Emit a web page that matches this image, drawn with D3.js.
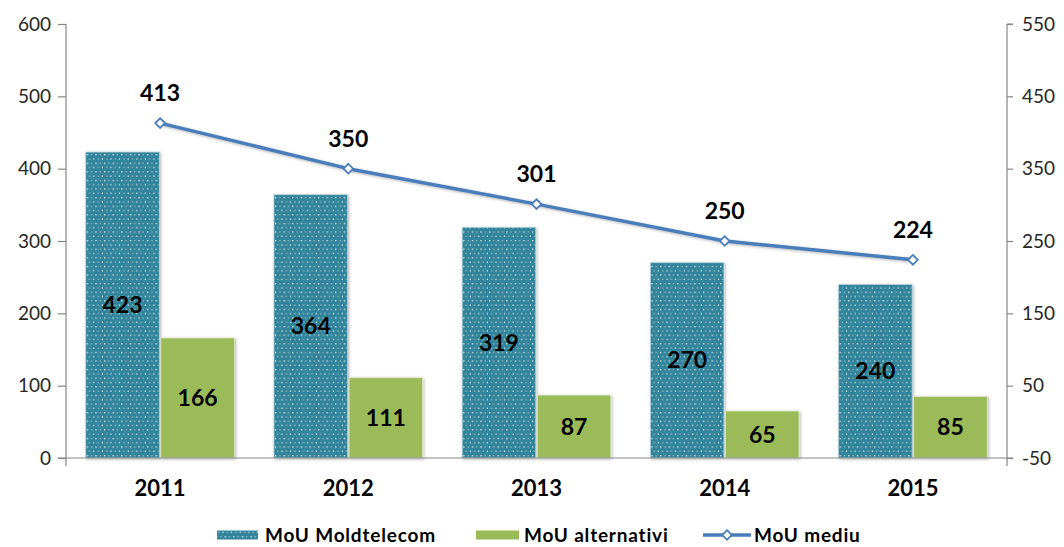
<!DOCTYPE html>
<html>
<head>
<meta charset="utf-8">
<script src="https://cdn.jsdelivr.net/npm/d3@7"></script>
<style>
  body { margin: 0; background: #fff; }
  text { font-family: Lato, "Open Sans", sans-serif; }
</style>
</head>
<body>
<div id="wrapper"></div>
<script>
// Chart data
const years = ["2011", "2012", "2013", "2014", "2015"]
const moldtelecom = [423, 364, 319, 270, 240]
const alternativi = [166, 111, 87, 65, 85]
const mediu = [413, 350, 301, 250, 224]
const leftTicks = [0, 100, 200, 300, 400, 500, 600]
const rightTicks = [-50, 50, 150, 250, 350, 450, 550]
const seriesNames = ["MoU Moldtelecom", "MoU alternativi", "MoU mediu"]

const dimensions = {
  width: 1064,
  height: 547,
  margin: { top: 24, right: 57, bottom: 89, left: 66 },
}
dimensions.boundedWidth = dimensions.width - dimensions.margin.left - dimensions.margin.right
dimensions.boundedHeight = dimensions.height - dimensions.margin.top - dimensions.margin.bottom

const teal = "#31849b"
const green = "#9bbb59"
const blue = "#4a7ebb"
const axisColor = "#868686"

function drawChart() {
  const svg = d3.select("#wrapper").append("svg")
    .attr("width", dimensions.width)
    .attr("height", dimensions.height)

  const defs = svg.append("defs")
  const pat = defs.append("pattern")
    .attr("id", "dots")
    .attr("patternUnits", "userSpaceOnUse")
    .attr("width", 8.6).attr("height", 8.6)
  pat.append("rect").attr("width", 8.6).attr("height", 8.6).attr("fill", teal)
  pat.append("rect").attr("x", 1).attr("y", 1).attr("width", 1.3).attr("height", 1.3).attr("fill", "#ffffff").attr("opacity", 0.9)
  pat.append("rect").attr("x", 5.3).attr("y", 1).attr("width", 1.3).attr("height", 1.3).attr("fill", "#ffffff").attr("opacity", 0.5)
  pat.append("rect").attr("x", 3.15).attr("y", 5.3).attr("width", 1.3).attr("height", 1.3).attr("fill", "#ffffff").attr("opacity", 0.5)
  pat.append("rect").attr("x", 7.45).attr("y", 5.3).attr("width", 1.3).attr("height", 1.3).attr("fill", "#ffffff").attr("opacity", 0.9)

  const shadow = defs.append("filter").attr("id", "shadow")
    .attr("x", "-20%").attr("y", "-20%").attr("width", "140%").attr("height", "140%")
  shadow.append("feDropShadow").attr("dx", 1).attr("dy", 1).attr("stdDeviation", 1.5)
    .attr("flood-color", "#000").attr("flood-opacity", 0.3)

  const bounds = svg.append("g")
    .attr("transform", `translate(${dimensions.margin.left},${dimensions.margin.top})`)

  const xScale = d3.scaleBand()
    .domain(years)
    .range([0, dimensions.boundedWidth])
    .paddingInner(0.21)
    .paddingOuter(0.105)
  const xSub = d3.scaleBand()
    .domain([0, 1])
    .range([0, xScale.bandwidth()])
    .paddingInner(0.02)

  const yLeft = d3.scaleLinear().domain([0, 600]).range([dimensions.boundedHeight, 0])
  const yRight = d3.scaleLinear().domain([-50, 550]).range([dimensions.boundedHeight, 0])

  const groups = bounds.selectAll(".year")
    .data(years)
    .join("g")
    .attr("transform", d => `translate(${xScale(d)},0)`)

  groups.append("rect")
    .attr("x", xSub(0))
    .attr("width", xSub.bandwidth())
    .attr("y", (d, i) => yLeft(moldtelecom[i]))
    .attr("height", (d, i) => yLeft(0) - yLeft(moldtelecom[i]))
    .attr("fill", "url(#dots)")
    .attr("stroke", "#b9d3dd")
    .attr("stroke-width", 0.8)
    .attr("filter", "url(#shadow)")

  groups.append("rect")
    .attr("x", xSub(1))
    .attr("width", xSub.bandwidth())
    .attr("y", (d, i) => yLeft(alternativi[i]))
    .attr("height", (d, i) => yLeft(0) - yLeft(alternativi[i]))
    .attr("fill", green)
    .attr("stroke", "#dfe8cc")
    .attr("stroke-width", 0.8)
    .attr("filter", "url(#shadow)")

  groups.append("text")
    .attr("x", xSub(0) + xSub.bandwidth() / 2)
    .attr("y", (d, i) => (yLeft(moldtelecom[i]) + yLeft(0)) / 2)
    .attr("dy", "0.35em")
    .attr("text-anchor", "middle")
    .attr("font-size", 23)
    .attr("font-weight", "bold")
    .attr("fill", "#000")
    .text((d, i) => moldtelecom[i])

  groups.append("text")
    .attr("x", xSub(1) + xSub.bandwidth() / 2)
    .attr("y", (d, i) => (yLeft(alternativi[i]) + yLeft(0)) / 2)
    .attr("dy", "0.35em")
    .attr("text-anchor", "middle")
    .attr("font-size", 23)
    .attr("font-weight", "bold")
    .attr("fill", "#000")
    .text((d, i) => alternativi[i])

  // Axes
  const leftAxis = bounds.append("g")
    .call(d3.axisLeft(yLeft).tickValues(leftTicks).tickSize(8).tickPadding(7))
  const rightAxis = bounds.append("g")
    .attr("transform", `translate(${dimensions.boundedWidth},0)`)
    .call(d3.axisRight(yRight).tickValues(rightTicks).tickFormat(d => String(d)).tickSize(6).tickPadding(9))
  const xAxis = bounds.append("g")
    .attr("transform", `translate(0,${dimensions.boundedHeight})`)
    .call(d3.axisBottom(xScale).tickSize(0).tickPadding(22))

  for (const ax of [leftAxis, rightAxis, xAxis]) {
    ax.select(".domain").attr("stroke", axisColor).attr("stroke-width", 1.2)
    ax.selectAll(".tick line").attr("stroke", axisColor).attr("stroke-width", 1.2)
  }
  leftAxis.selectAll(".tick text").attr("font-size", 19).attr("fill", "#262626")
  rightAxis.selectAll(".tick text").attr("font-size", 19).attr("fill", "#262626")
  xAxis.selectAll(".tick text").attr("font-size", 22).attr("font-weight", "bold").attr("fill", "#000")
  // domain path ends with outer ticks; redraw baseline across with small overshoot
  xAxis.select(".domain").attr("d", `M-8,0H${dimensions.boundedWidth + 6}`)
  leftAxis.select(".domain").attr("d", `M0,0V${dimensions.boundedHeight + 8}`)
  rightAxis.select(".domain").attr("d", `M0,0H6M0,0V${dimensions.boundedHeight + 8}`)

  // Line series
  const cx = d => xScale(d) + xScale.bandwidth() / 2
  const lineGenerator = d3.line()
    .x((d, i) => cx(years[i]))
    .y(d => yRight(d))

  bounds.append("path")
    .attr("d", lineGenerator(mediu))
    .attr("fill", "none")
    .attr("stroke", blue)
    .attr("stroke-width", 3.5)
    .attr("stroke-linejoin", "round")
    .attr("filter", "url(#shadow)")

  bounds.selectAll(".marker")
    .data(mediu)
    .join("path")
    .attr("d", d3.symbol(d3.symbolDiamond2, 60))
    .attr("transform", (d, i) => `translate(${cx(years[i])},${yRight(d)})`)
    .attr("fill", "#fff")
    .attr("stroke", blue)
    .attr("stroke-width", 1.8)

  bounds.selectAll(".lineLabel")
    .data(mediu)
    .join("text")
    .attr("x", (d, i) => cx(years[i]))
    .attr("y", d => yRight(d) - 30)
    .attr("dy", "0.35em")
    .attr("text-anchor", "middle")
    .attr("font-size", 23)
    .attr("font-weight", "bold")
    .attr("fill", "#000")
    .text(d => d)

  // Legend
  const legend = svg.append("g").attr("transform", "translate(0,535)")
  const swatchX = [217, 476, 703]
  const textX = [265, 524, 754]

  legend.append("rect").attr("x", swatchX[0]).attr("y", -4.5).attr("width", 41).attr("height", 9)
    .attr("fill", "url(#dots)")
  legend.append("rect").attr("x", swatchX[1]).attr("y", -4.5).attr("width", 43).attr("height", 9)
    .attr("fill", green)
  legend.append("line").attr("x1", swatchX[2]).attr("x2", swatchX[2] + 48)
    .attr("stroke", blue).attr("stroke-width", 3.5)
  legend.append("path")
    .attr("d", d3.symbol(d3.symbolDiamond2, 60))
    .attr("transform", `translate(${swatchX[2] + 24},0)`)
    .attr("fill", "#fff").attr("stroke", blue).attr("stroke-width", 1.8)

  legend.selectAll(".legendText")
    .data(seriesNames)
    .join("text")
    .attr("x", (d, i) => textX[i])
    .attr("dy", "0.35em")
    .attr("font-size", 19)
    .attr("letter-spacing", 0.8)
    .attr("font-weight", "bold")
    .attr("fill", "#000")
    .text(d => d)
}

drawChart()
</script>
</body>
</html>
